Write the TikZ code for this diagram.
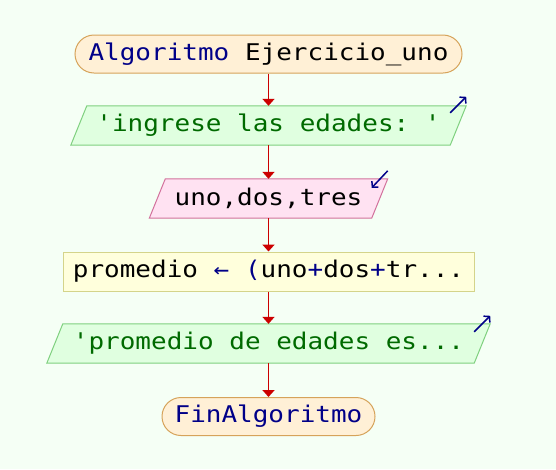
\documentclass[tikz,border=0pt]{standalone}
\usepackage{fontspec}
\setmonofont[FakeStretch=1.13]{DejaVu Sans Mono}
\usetikzlibrary{arrows.meta,backgrounds}
\definecolor{pagebg}{HTML}{F5FFF5}
\definecolor{termfill}{HTML}{FFF0D6}
\definecolor{termline}{HTML}{D6A35A}
\definecolor{outfill}{HTML}{E0FFE0}
\definecolor{outline}{HTML}{7FD07F}
\definecolor{outtext}{HTML}{006A00}
\definecolor{infill}{HTML}{FFE2F2}
\definecolor{inline}{HTML}{D2719C}
\definecolor{procfill}{HTML}{FFFFDC}
\definecolor{procline}{HTML}{D4D48A}
\definecolor{navy}{HTML}{000088}
\definecolor{flowred}{HTML}{CC0000}
\begin{document}
\begin{tikzpicture}[x=1pt,y=-1pt,
  every node/.style={font=\ttfamily\fontsize{23}{27}\selectfont, inner sep=0pt},
  term/.style={draw=termline, fill=termfill, rounded corners=19pt, minimum height=38pt, line width=1pt},
  procbox/.style={draw=procline, fill=procfill, minimum height=39pt, line width=1pt},
  leanbox/.style={minimum height=39pt},
  flow/.style={draw=flowred, line width=1.8pt, -{Triangle[length=7pt,width=12pt]}},
  iomark/.style={draw=navy, line width=1.5pt, -{Straight Barb[length=4pt,width=9pt]}}]
\useasboundingbox (0,0) rectangle (556,469);

% flowchart steps
\node[term, minimum width=387pt] (start) at (268.5,54) {\textcolor{navy}{Algoritmo} Ejercicio\_uno};
\node[leanbox, minimum width=379pt, text=outtext] (o1) at (268.5,125.5) {\symbol{39}ingrese las edades: \symbol{39}};
\node[leanbox, minimum width=222pt] (in) at (268.5,198.5) {uno,dos,tres};
\node[procbox, minimum width=411pt] (proc) at (268.5,271.5) {promedio \textcolor{navy}{← (}uno\textcolor{navy}{+}dos\textcolor{navy}{+}tr...};
\node[leanbox, minimum width=427pt, text=outtext] (o2) at (268.5,343.5) {\symbol{39}promedio de edades es...};
\node[term, minimum width=213pt, text=navy] (fin) at (268.5,416.5) {FinAlgoritmo};

% slanted read/write boxes behind their text
\begin{scope}[on background layer]
  \fill[pagebg] (0,0) rectangle (556,469);
  \filldraw[fill=outfill, draw=outline, line width=1pt]
    ([xshift=-8pt]o1.south west) -- ([xshift=8pt]o1.north west) -- ([xshift=8pt]o1.north east) -- ([xshift=-8pt]o1.south east) -- cycle;
  \filldraw[fill=infill, draw=inline, line width=1pt]
    ([xshift=-8pt]in.south west) -- ([xshift=8pt]in.north west) -- ([xshift=8pt]in.north east) -- ([xshift=-8pt]in.south east) -- cycle;
  \filldraw[fill=outfill, draw=outline, line width=1pt]
    ([xshift=-8pt]o2.south west) -- ([xshift=8pt]o2.north west) -- ([xshift=8pt]o2.north east) -- ([xshift=-8pt]o2.south east) -- cycle;
\end{scope}

% output / input markers
\draw[iomark] ([shift={(-8pt,-7pt)}]o1.north east) -- ([shift={(8pt,9pt)}]o1.north east);
\draw[iomark] ([shift={(8pt,8pt)}]in.north east) -- ([shift={(-8pt,-9pt)}]in.north east);
\draw[iomark] ([shift={(-8pt,-8pt)}]o2.north east) -- ([shift={(8pt,8pt)}]o2.north east);

% control flow
\draw[flow] (start) -- (o1);
\draw[flow] (o1) -- (in);
\draw[flow] (in) -- (proc);
\draw[flow] (proc) -- (o2);
\draw[flow] (o2) -- (fin);
\end{tikzpicture}
\end{document}
